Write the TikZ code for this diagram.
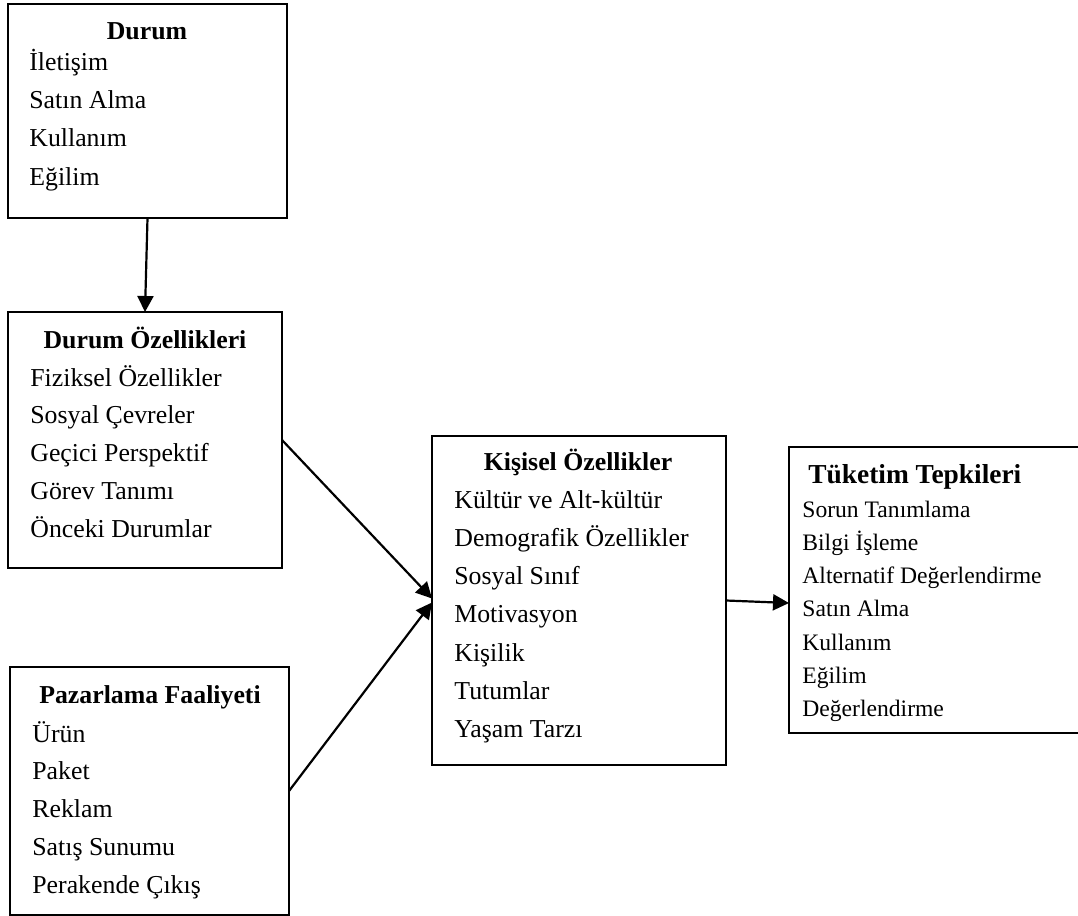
\documentclass[tikz,border=0pt]{standalone}
\usepackage{fontspec}
\setmainfont{Liberation Serif}
\usetikzlibrary{arrows.meta,calc}
\begin{document}
\begin{tikzpicture}[x=0.5pt,y=-0.5pt,
  boxnode/.style={draw, line width=0.8pt, inner sep=0pt, outer sep=0pt, anchor=north west},
  txt/.style={anchor=base west, inner sep=0pt, font=\fontsize{12.9}{14}\selectfont},
  ttl/.style={anchor=base, inner sep=0pt, font=\fontsize{12.9}{14}\selectfont\bfseries},
  arr/.style={line width=1.1pt, -{Triangle[length=8pt,width=8pt]}}]
\useasboundingbox (0,0) rectangle (1078,916);
% boxes
\node[boxnode, minimum width=139.5pt, minimum height=107pt] (durum) at (8,4) {};
\node[boxnode, minimum width=137pt, minimum height=128pt] (dozel) at (8,312) {};
\node[boxnode, minimum width=147pt, minimum height=164.5pt] (kisisel) at (432,436) {};
\node[boxnode, minimum width=147pt, minimum height=143pt] (tuketim) at (789,447) {};
\node[boxnode, minimum width=139.5pt, minimum height=124pt] (pazar) at (10,667) {};
% Durum
\node[ttl] (t1) at (147,39) {Durum};
\foreach \t [count=\i] in {İletişim,Satın Alma,Kullanım,Eğilim}
  \node[txt] (a\i) at (29,{70+38.4*(\i-1)}) {\t};
% Durum Özellikleri
\node[ttl] (t2) at (145,348) {Durum Özellikleri};
\foreach \t [count=\i] in {Fiziksel Özellikler,Sosyal Çevreler,Geçici Perspektif,Görev Tanımı,Önceki Durumlar}
  \node[txt] (b\i) at (30,{386+37.8*(\i-1)}) {\t};
% Kişisel Özellikler
\node[ttl] (t3) at (578,470) {Kişisel Özellikler};
\foreach \t [count=\i] in {Kültür ve Alt-kültür,Demografik Özellikler,Sosyal Sınıf,Motivasyon,Kişilik,Tutumlar,Yaşam Tarzı}
  \node[txt] (c\i) at (454,{508+38.3*(\i-1)}) {\t};
% Tüketim Tepkileri
\node[ttl, anchor=base west, font=\fontsize{13.7}{15}\selectfont\bfseries] (t4) at (808,483) {Tüketim Tepkileri};
\foreach \t [count=\i] in {Sorun Tanımlama,Bilgi İşleme,Alternatif Değerlendirme,Satın Alma,Kullanım,Eğilim,Değerlendirme}
  \node[txt, font=\fontsize{11.8}{13}\selectfont] (e\i) at (802,{517+33.3*(\i-1)}) {\t};
% Pazarlama Faaliyeti
\node[ttl] (t5) at (150,703) {Pazarlama Faaliyeti};
\foreach \t [count=\i] in {Ürün,Paket,Reklam,Satış Sunumu,Perakende Çıkış}
  \node[txt] (f\i) at (32,{742+37.8*(\i-1)}) {\t};
% arrows
\draw[arr] (durum.south) -- (dozel.north);
\draw[arr] (dozel.east) -- ($(kisisel.west)+(0,-2)$);
\draw[arr] (pazar.east) -- ($(kisisel.west)+(0,2)$);
\draw[arr] (kisisel.east) -- ($(tuketim.west)+(0,13)$);
\end{tikzpicture}
\end{document}
